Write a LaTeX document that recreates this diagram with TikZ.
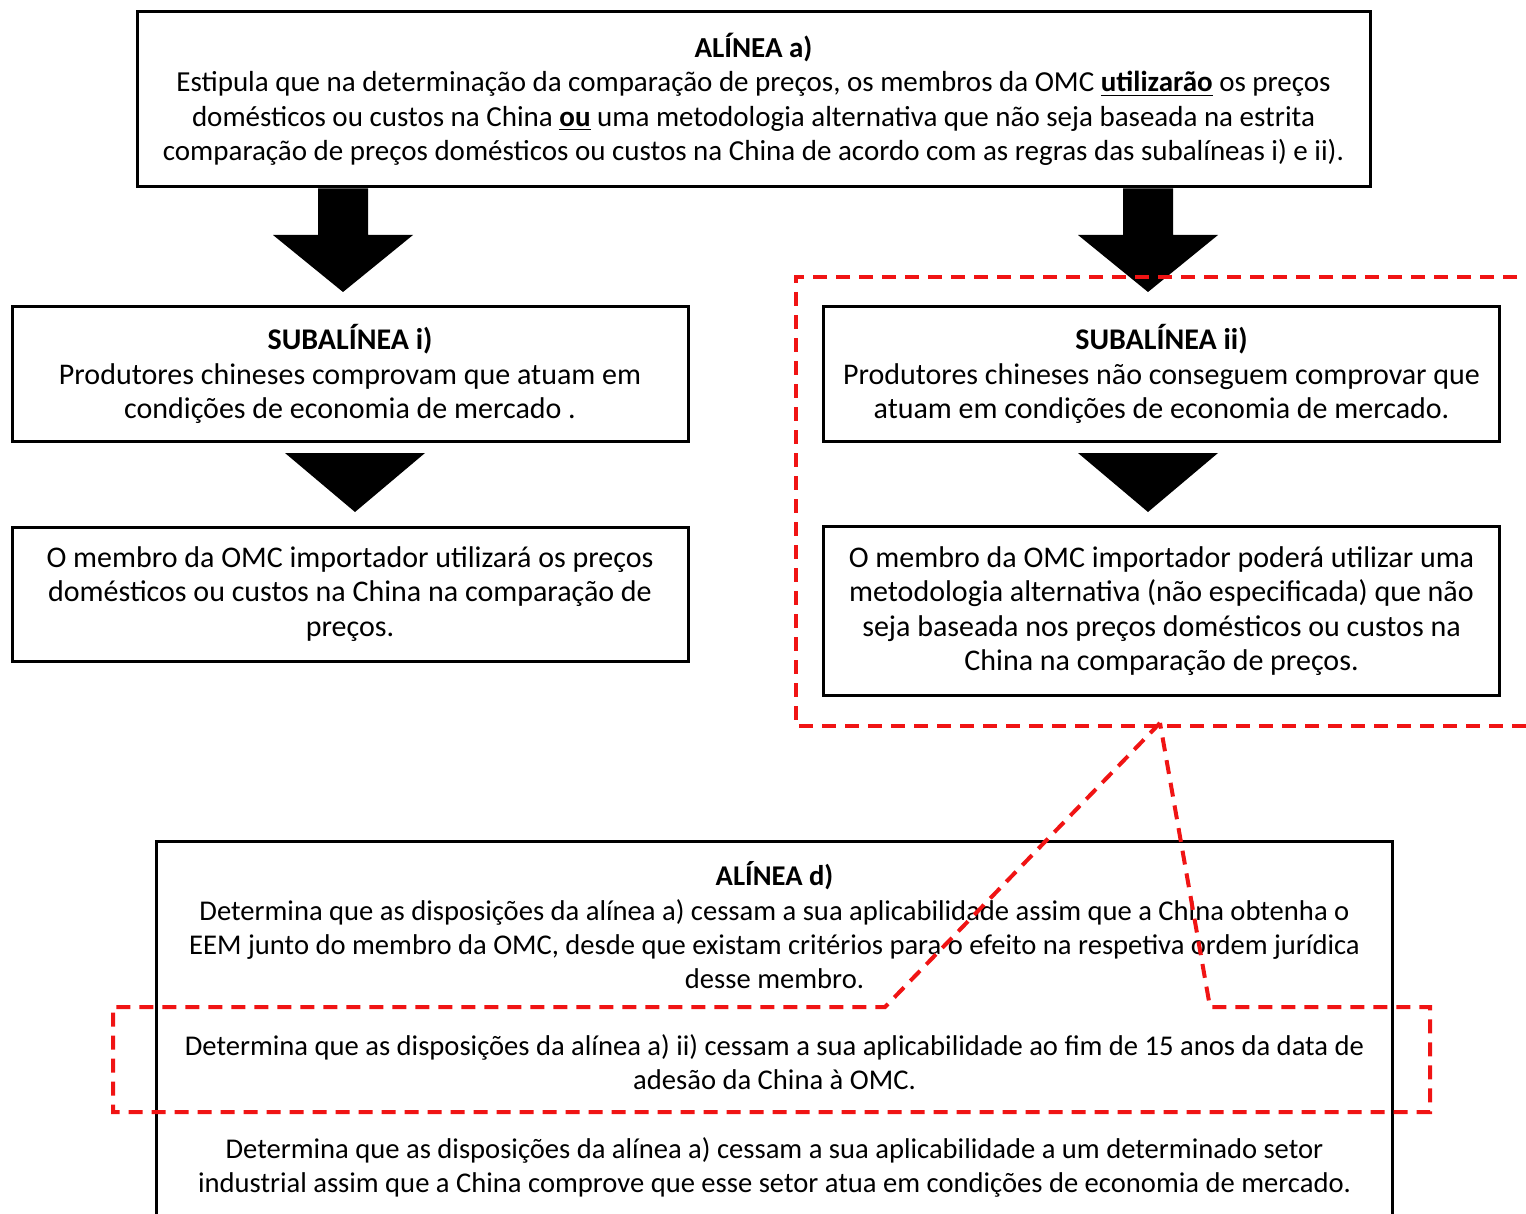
\documentclass[tikz,border=0pt]{standalone}
\usepackage{fontspec}
\setmainfont{Carlito}
\usepackage{tikz}
\usetikzlibrary{
  calc,
  positioning
}
\definecolor{myred}{RGB}{240,20,20}
\newcommand{\setagrossa}[2]{%
  \fill ($(#1)+(-25,0)$) -- ($(#1)+(25,0)$) -- ($(#2)+(25,-57)$) -- ($(#2)+(70,-57)$)
    -- (#2) -- ($(#2)+(-70,-57)$) -- ($(#2)+(-25,-57)$) -- cycle;}
\newcommand{\setatriangulo}[1]{%
  \fill ($(#1)+(-70,-59)$) -- ($(#1)+(70,-59)$) -- (#1) -- cycle;}

\begin{document}
\begin{tikzpicture}[
  x=0.5pt,
  y=-0.5pt,
  caixa/.style={
    draw,
    line width=1.5pt,
    fill=white,
    align=center,
    inner sep=0pt,
    font=\fontsize{15}{17.2}\selectfont
    },
  caixapequena/.style={
    caixa,
    minimum width=338pt
    },
  tracejado/.style={
    draw=myred,
    line width=2pt,
    dash pattern=on 7pt off 4.5pt
    }
]
\useasboundingbox (0,0) rectangle (1526,1214);

\node[caixa,minimum width=616.5pt,minimum height=87.5pt,
  font=\fontsize{14.5}{17.2}\selectfont]
  (alineaA) at (753.5,99.5)
  {\textbf{ALÍNEA a)}\\
  Estipula que na determinação da comparação de preços, os membros da OMC \underline{\textbf{utilizarão}} os preços\\
  domésticos ou custos na China \underline{\textbf{ou}} uma metodologia alternativa que não seja baseada na estrita\\
  comparação de preços domésticos ou custos na China de acordo com as regras das subalíneas i) e ii).};

\node[caixapequena,minimum height=67.5pt]
  (subI) at (350,374)
  {\textbf{SUBALÍNEA i)}\\
  Produtores chineses comprovam que atuam em\\
  condições de economia de mercado .};

\node[caixapequena,minimum height=67pt]
  (precosI) at (350,594)
  {O membro da OMC importador utilizará os preços\\
  domésticos ou custos na China na comparação de\\
  preços.};

\node[caixapequena,minimum height=67.5pt]
  (subII) at (1161.5,374)
  {\textbf{SUBALÍNEA ii)}\\
  Produtores chineses não conseguem comprovar que\\
  atuam em condições de economia de mercado.};

\node[caixapequena,minimum height=84.5pt]
  (metodoII) at (1161.5,611)
  {O membro da OMC importador poderá utilizar uma\\
  metodologia alternativa (não especificada) que não\\
  seja baseada nos preços domésticos ou custos na\\
  China na comparação de preços.};

\node[caixa,draw=none,minimum width=616.5pt,minimum height=187pt,anchor=north,
  font=\fontsize{14.3}{17.2}\selectfont]
  (alineaD) at (774.5,841)
  {\textbf{ALÍNEA d)}\\
  Determina que as disposições da alínea a) cessam a sua aplicabilidade assim que a China obtenha o\\
  EEM junto do membro da OMC, desde que existam critérios para o efeito na respetiva ordem jurídica\\
  desse membro.\\[16pt]
  Determina que as disposições da alínea a) ii) cessam a sua aplicabilidade ao fim de 15 anos da data de\\
  adesão da China à OMC.\\[17pt]
  Determina que as disposições da alínea a) cessam a sua aplicabilidade a um determinado setor\\
  industrial assim que a China comprove que esse setor atua em condições de economia de mercado.};
\draw[line width=1.5pt] ([yshift=-4pt]alineaD.south west) |- (alineaD.north east)
  -- ([yshift=-4pt]alineaD.south east);

\coordinate (pontaE) at (343,292);
\coordinate (pontaD) at (1148,292);
\coordinate (baseE) at (alineaA.south -| pontaE);
\coordinate (baseD) at (alineaA.south -| pontaD);
\setagrossa{baseE}{pontaE}
\setagrossa{baseD}{pontaD}

\coordinate (pontaE2) at (355,512);
\coordinate (pontaD2) at (1148,512);
\setatriangulo{pontaE2}
\setatriangulo{pontaD2}

\draw[tracejado] (1540,277) -- (796,277) -- (796,726) -- (1540,726);
\coordinate (vertice) at (1160,723);
\draw[tracejado] (vertice) -- (885,1007) -- (113,1007) -- (113,1112)
  -- (1430,1112) -- (1430,1007) -- (1210,1007) -- cycle;
\end{tikzpicture}
\end{document}
